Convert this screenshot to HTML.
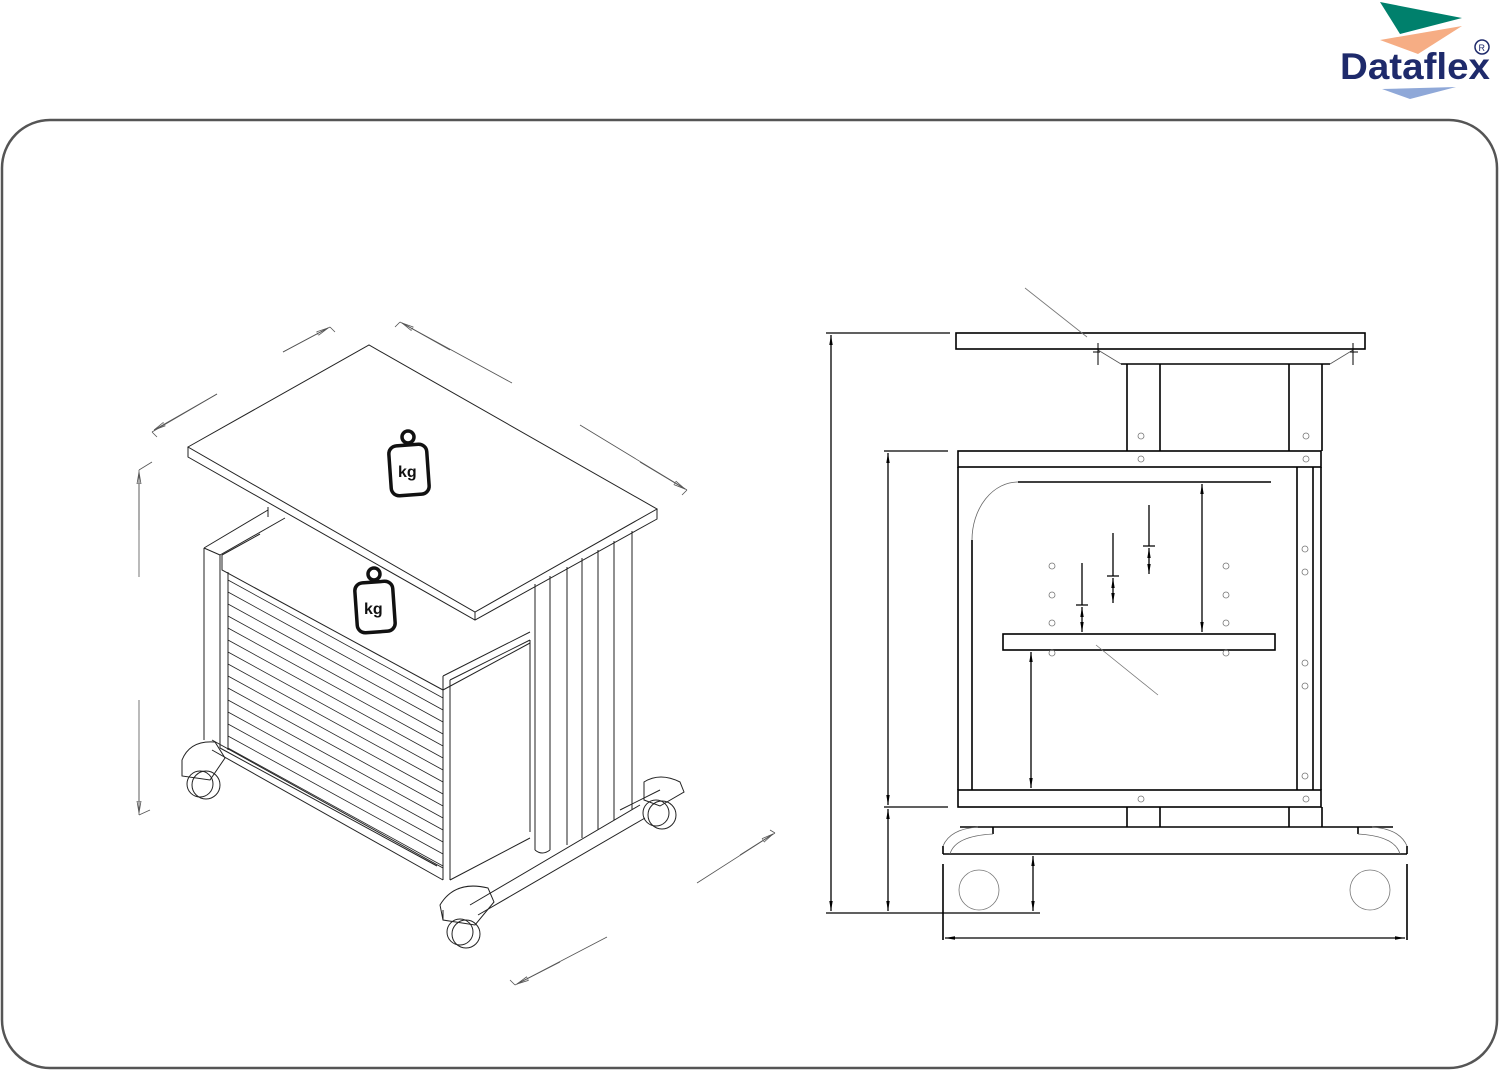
<!DOCTYPE html>
<html><head><meta charset="utf-8"><style>
html,body{margin:0;padding:0;background:#fff;width:1499px;height:1071px;overflow:hidden}
svg{display:block}
</style></head><body>
<svg width="1499" height="1071" viewBox="0 0 1499 1071" xmlns="http://www.w3.org/2000/svg">
<defs>
<marker id="a" viewBox="0 0 10 10" refX="10" refY="5" markerWidth="10" markerHeight="10" orient="auto-start-reverse" markerUnits="userSpaceOnUse"><path d="M0,3.3 L10,5 L0,6.7z" fill="#000"/></marker>
<marker id="g" viewBox="0 0 12 10" refX="12" refY="5" markerWidth="12" markerHeight="10" orient="auto-start-reverse" markerUnits="userSpaceOnUse"><path d="M0,3 L12,5 L0,7z" fill="none" stroke="#555" stroke-width="0.8"/></marker>
</defs>
<!-- logo -->
<polygon points="1380,2 1462,18 1400,34" fill="#00806c"/>
<polygon points="1380,40 1462,26 1418,54" fill="#f6ad84"/>
<polygon points="1382,89 1456,87 1410,99" fill="#8fa8d8"/>
<text x="1340" y="79" font-family="Liberation Sans, sans-serif" font-weight="bold" font-size="37" fill="#1e2a6b" textLength="150" lengthAdjust="spacingAndGlyphs">Dataflex</text>
<circle cx="1482" cy="47" r="7" fill="none" stroke="#1e2a6b" stroke-width="1.5"/>
<text x="1478.5" y="51" font-family="Liberation Sans, sans-serif" font-size="9" fill="#1e2a6b">R</text>
<!-- frame -->
<rect x="2" y="120" width="1495" height="948" rx="48" fill="none" stroke="#555" stroke-width="2.5"/>

<!-- RIGHT DRAWING -->
<g stroke="#000" stroke-width="1.6" fill="none">
<rect x="956" y="333" width="409" height="16"/>
<path d="M1121,364 L1330,364"/>
<path d="M1098,350 L1121,364 M1353,350 L1330,364" stroke-width="0.8" stroke="#555"/>
<path d="M1098,343 V365 M1353,343 V365 M1093,352 H1100 M1350,352 H1358" stroke-width="1"/>
<path d="M1127,364 V451 M1160,364 V451 M1289,364 V451 M1322,364 V451"/>
<rect x="958" y="451" width="363" height="16"/>
<path d="M958,467 V790 M972,540 V790"/>
<path d="M972,540 A46,58 0 0 1 1018,482" stroke-width="0.8" stroke="#666"/>
<path d="M1018,482 H1271"/>
<path d="M1297,467 V790 M1313,467 V790 M1321,467 V790"/>
<rect x="1003" y="634" width="272" height="16"/>
<rect x="958" y="790" width="363" height="17"/>
<path d="M1127,807 V827 M1160,807 V827 M1289,807 V827 M1322,807 V827"/>
<path d="M960,827 H1393 M993,827 V834 M1358,827 V834"/>
<path d="M943,854 H1407 M943,846 V854 M1407,846 V854"/>
<path d="M943,846 Q950,829 978,827 M950,854 Q955,836 993,834 M1407,846 Q1400,829 1372,827 M1400,854 Q1395,836 1358,834" stroke-width="0.8" stroke="#666"/>
<path d="M943,864 V940 M1407,864 V940"/>
</g>
<g stroke="#777" stroke-width="0.8" fill="none">
<circle cx="979" cy="890" r="20"/><circle cx="1370" cy="890" r="20"/>
<path d="M1025,288 L1087,337 M1096,645 L1158,695"/>
<g r="3">
<circle cx="1141" cy="436" r="3"/><circle cx="1306" cy="436" r="3"/>
<circle cx="1141" cy="459" r="3"/><circle cx="1306" cy="459" r="3"/>
<circle cx="1141" cy="799" r="3"/><circle cx="1306" cy="799" r="3"/>
<circle cx="1305" cy="549" r="3"/><circle cx="1305" cy="572" r="3"/><circle cx="1305" cy="663" r="3"/><circle cx="1305" cy="686" r="3"/><circle cx="1305" cy="776" r="3"/>
<circle cx="1052" cy="566" r="3"/><circle cx="1052" cy="595" r="3"/><circle cx="1052" cy="623" r="3"/><circle cx="1052" cy="653" r="3"/>
<circle cx="1226" cy="566" r="3"/><circle cx="1226" cy="595" r="3"/><circle cx="1226" cy="623" r="3"/><circle cx="1226" cy="653" r="3"/>
</g>
</g>
<!-- dims right -->
<g stroke="#000" stroke-width="1.3" fill="none">
<path d="M826,333 H950 M826,913 H1040 M884,451 H948 M884,807 H948"/>
<line x1="831" y1="335" x2="831" y2="911" marker-start="url(#a)" marker-end="url(#a)"/>
<line x1="888" y1="453" x2="888" y2="805" marker-start="url(#a)" marker-end="url(#a)"/>
<line x1="888" y1="809" x2="888" y2="911" marker-start="url(#a)" marker-end="url(#a)"/>
<line x1="1033" y1="856" x2="1033" y2="911" marker-start="url(#a)" marker-end="url(#a)"/>
<line x1="945" y1="938" x2="1405" y2="938" marker-start="url(#a)" marker-end="url(#a)"/>
<line x1="1202" y1="484" x2="1202" y2="632" marker-start="url(#a)" marker-end="url(#a)"/>
<line x1="1031" y1="652" x2="1031" y2="788" marker-start="url(#a)" marker-end="url(#a)"/>
<path d="M1082,563 V605 M1076,605 H1088 M1113,533 V576 M1107,576 H1119 M1149,505 V546 M1143,546 H1155"/>
<line x1="1082" y1="607" x2="1082" y2="632" marker-start="url(#a)" marker-end="url(#a)"/>
<line x1="1113" y1="578" x2="1113" y2="603" marker-start="url(#a)" marker-end="url(#a)"/>
<line x1="1149" y1="548" x2="1149" y2="574" marker-start="url(#a)" marker-end="url(#a)"/>
</g>

<!-- LEFT ISOMETRIC -->
<g stroke="#222" stroke-width="1" fill="none">
<!-- top plate -->
<path d="M188,447 L369,345 L657,509 L475,612 Z"/>
<path d="M188,447 V457 L475,620 L657,519 V509 M475,612 V620"/>
<!-- rear frame under plate -->
<path d="M268,507 V517 M204,548 L268,510 M220,555 L285,518"/>
<!-- left post -->
<path d="M204,548 V740 M220,555 V748 M204,548 L220,555"/>
<!-- cabinet top -->
<path d="M222,555 L222,570 L443,690 L530,643 M222,555 L260,534"/>
<!-- shutter face -->
<path d="M228,572 V750 M443,676 V880 M450,680 V880 M443,676 L530,632 M450,680 L530,640 M530,640 V832 M450,880 L530,838"/>
<g stroke-width="0.8">
<path d="M228,580 L443,698 M228,592 L443,710 M228,604 L443,722 M228,616 L443,734 M228,628 L443,746 M228,640 L443,758 M228,652 L443,770 M228,664 L443,782 M228,676 L443,794 M228,688 L443,806 M228,700 L443,818 M228,712 L443,830 M228,724 L443,842 M228,736 L443,854 M228,748 L443,866"/>
</g>
<!-- bottom rail -->
<path d="M212,740 L443,868 M212,750 L443,880 M220,748 L437,866"/>
<!-- right column panels -->
<path d="M535,584 V850 M550,576 V850 M567,567 V845 M582,558 V838 M598,550 V830 M614,541 V820 M632,531 V810"/>
<path d="M535,850 Q542,856 550,850"/>
<!-- base rail -->
<path d="M470,905 L640,805 M478,915 L645,818 M620,810 L660,790"/>
<!-- castors -->
<path d="M182,760 Q190,740 215,742 L225,758 L210,780 L182,776 Z M182,776 V766"/>
<circle cx="206" cy="785" r="14"/><circle cx="200" cy="784" r="13"/>
<path d="M440,905 Q455,880 488,888 L494,902 L475,925 L443,920 Z M443,920 V910"/>
<circle cx="466" cy="934" r="14"/><circle cx="460" cy="932" r="13"/>
<path d="M644,782 Q660,772 680,782 L684,792 L660,806 L644,800 Z"/>
<circle cx="662" cy="815" r="14"/><circle cx="656" cy="813" r="13"/>
</g>
<!-- kg icons -->
<g stroke="#111" stroke-width="3.5" fill="none">
<circle cx="408" cy="437" r="6"/>
<rect x="390" y="445" width="38" height="50" rx="8" transform="rotate(-4 409 470)"/>
<circle cx="374" cy="574" r="6"/>
<rect x="356" y="582" width="38" height="50" rx="8" transform="rotate(-4 375 607)"/>
</g>
<text x="398" y="477" font-family="Liberation Sans, sans-serif" font-weight="bold" font-size="16" fill="#111">kg</text>
<text x="364" y="614" font-family="Liberation Sans, sans-serif" font-weight="bold" font-size="16" fill="#111">kg</text>
<!-- iso dims -->
<g stroke="#555" stroke-width="0.8" fill="none">
<path d="M152,432 L217,394 M283,352 L330,327 M330,327 L335,332 M152,432 L157,437"/>
<line x1="217" y1="394" x2="154" y2="430" marker-end="url(#g)"/>
<line x1="283" y1="352" x2="328" y2="328" marker-end="url(#g)"/>
<path d="M400,322 L512,383 M580,425 L687,490 M395,327 L400,322 M682,495 L687,490"/>
<line x1="450" y1="350" x2="402" y2="323" marker-end="url(#g)"/>
<line x1="640" y1="462" x2="685" y2="489" marker-end="url(#g)"/>
<path d="M139,470 V577 M139,700 V815 M139,470 L152,462 M139,815 L150,810"/>
<line x1="139" y1="530" x2="139" y2="472" marker-end="url(#g)"/>
<line x1="139" y1="760" x2="139" y2="813" marker-end="url(#g)"/>
<path d="M697,883 L775,833 M515,985 L607,937 M770,830 L775,833 M515,985 L510,980"/>
<line x1="740" y1="855" x2="773" y2="834" marker-end="url(#g)"/>
<line x1="560" y1="962" x2="517" y2="984" marker-end="url(#g)"/>
</g>
</svg>
</body></html>
